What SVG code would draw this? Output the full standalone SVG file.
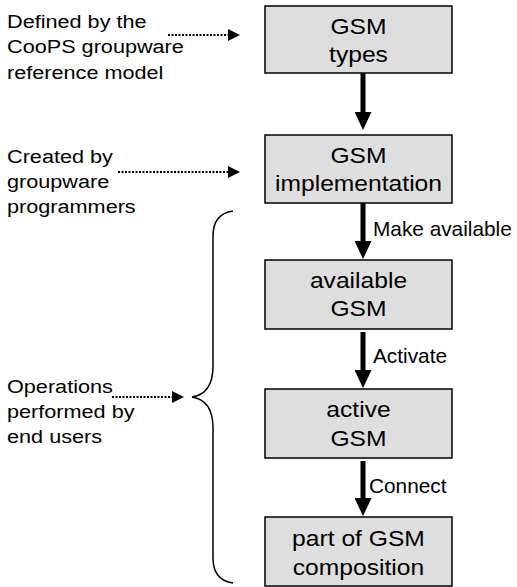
<svg xmlns="http://www.w3.org/2000/svg" width="517" height="587" viewBox="0 0 517 587">
<style>
.box{fill:#dedede;stroke:#000;stroke-width:1.5}
.bt{font-family:"Liberation Sans",Arial,sans-serif;font-size:22px;text-anchor:middle;fill:#000}
.lt{font-family:"Liberation Sans",Arial,sans-serif;font-size:19px;fill:#000}
.al{font-family:"Liberation Sans",Arial,sans-serif;font-size:20.8px;fill:#000}
.thick{stroke:#000;stroke-width:5;fill:none;marker-end:url(#big)}
.dot{stroke:#000;stroke-width:2;stroke-dasharray:2 1.5;fill:none;marker-end:url(#small)}
.brace{stroke:#000;stroke-width:1.5;fill:none}
</style>
<defs>
<marker id="big" markerUnits="userSpaceOnUse" viewBox="0 0 18 17" markerWidth="18" markerHeight="17" refX="1" refY="8.5" orient="auto"><path d="M0,0 L18,8.5 L0,17 Z" fill="#000"/></marker>
<marker id="small" markerUnits="userSpaceOnUse" viewBox="0 0 12 12" markerWidth="12" markerHeight="12" refX="1" refY="6" orient="auto"><path d="M0,0 L12,6 L0,12 Z" fill="#000"/></marker>
</defs>

<g id="gsm-types">
<rect class="box" x="265" y="6" width="187" height="67"/>
<g transform="translate(358.5,0) scale(1.12,1)"><text class="bt" x="0" y="34">GSM</text><text class="bt" x="0" y="62">types</text></g>
</g>
<g id="gsm-implementation">
<rect class="box" x="265" y="135" width="187" height="68"/>
<g transform="translate(358.5,0) scale(1.12,1)"><text class="bt" x="0" y="163.5">GSM</text><text class="bt" x="0" y="191.5">implementation</text></g>
</g>
<g id="available-gsm">
<rect class="box" x="265" y="260" width="187" height="69"/>
<g transform="translate(358.5,0) scale(1.12,1)"><text class="bt" x="0" y="288.5">available</text><text class="bt" x="0" y="316.5">GSM</text></g>
</g>
<g id="active-gsm">
<rect class="box" x="265" y="389" width="187" height="69"/>
<g transform="translate(358.5,0) scale(1.12,1)"><text class="bt" x="0" y="417">active</text><text class="bt" x="0" y="446">GSM</text></g>
</g>
<g id="part-of-composition">
<rect class="box" x="265" y="517" width="187" height="69"/>
<g transform="translate(358.5,0) scale(1.12,1)"><text class="bt" x="0" y="546.5">part of GSM</text><text class="bt" x="0" y="575">composition</text></g>
</g>

<g id="note-reference-model" transform="translate(7,0) scale(1.14,1)">
<text class="lt" x="0" y="28">Defined by the</text>
<text class="lt" x="0" y="53.5">CooPS groupware</text>
<text class="lt" x="0" y="79">reference model</text>
</g>
<g id="note-programmers" transform="translate(7,0) scale(1.14,1)">
<text class="lt" x="0" y="163">Created by</text>
<text class="lt" x="0" y="188">groupware</text>
<text class="lt" x="0" y="213">programmers</text>
</g>
<g id="note-end-users" transform="translate(7,0) scale(1.14,1)">
<text class="lt" x="0" y="393">Operations</text>
<text class="lt" x="0" y="418">performed by</text>
<text class="lt" x="0" y="443">end users</text>
</g>

<g id="connectors">
<line class="thick" x1="363" y1="73" x2="363" y2="113"/>
<line class="thick" x1="363" y1="203" x2="363" y2="242"/>
<line class="thick" x1="363" y1="332" x2="363" y2="371"/>
<line class="thick" x1="363" y1="461" x2="363" y2="499"/>
<text class="al" x="373" y="236">Make available</text>
<text class="al" x="373" y="363">Activate</text>
<text class="al" x="369" y="493">Connect</text>
<line class="dot" x1="168" y1="35" x2="229" y2="35"/>
<line class="dot" x1="118" y1="172" x2="229" y2="172"/>
<line class="dot" x1="112" y1="397" x2="173" y2="397"/>
<path class="brace" d="M233,211 C219,213 213,222 213,236 L213,366 C213,385 205,395 192,397 C205,399 213,409 213,428 L213,558 C213,572 219,581 233,583"/>
</g>
</svg>
